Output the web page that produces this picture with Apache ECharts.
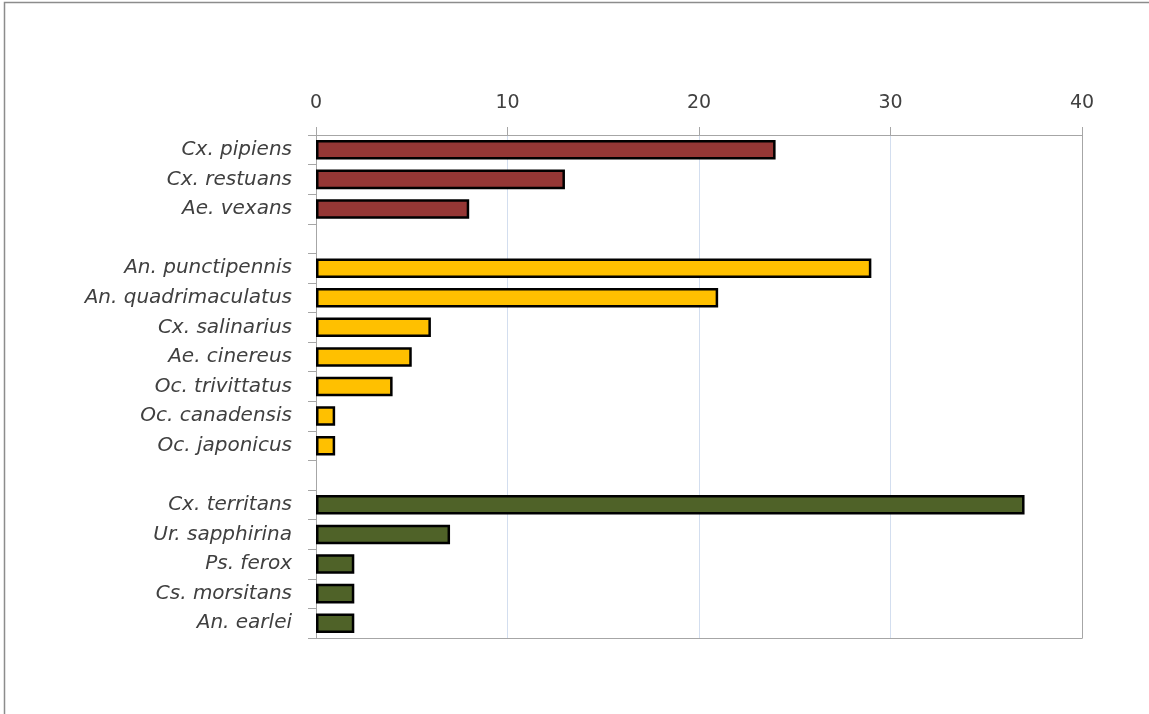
<!DOCTYPE html>
<html><head><meta charset="utf-8">
<script src="https://cdn.jsdelivr.net/npm/echarts@6/dist/echarts.min.js"></script>
<style>html,body{margin:0;padding:0;background:#fff}#c{width:1149px;height:714px}</style>
</head><body><div id="c"></div>
<script>
var group1Names = ['Cx. pipiens', 'Cx. restuans', 'Ae. vexans'];
var group1Values = [24, 13, 8];
var group2Names = ['An. punctipennis', 'An. quadrimaculatus', 'Cx. salinarius', 'Ae. cinereus', 'Oc. trivittatus', 'Oc. canadensis', 'Oc. japonicus'];
var group2Values = [29, 21, 6, 5, 4, 1, 1];
var group3Names = ['Cx. territans', 'Ur. sapphirina', 'Ps. ferox', 'Cs. morsitans', 'An. earlei'];
var group3Values = [37, 7, 2, 2, 2];
var xTicks = [0, 10, 20, 30, 40];

var gapA = ' ', gapB = '  ';
var categories = [].concat(group1Names, [gapA], group2Names, [gapB], group3Names);
function fill(names, values) {
  var m = {};
  names.forEach(function (n, i) { m[n] = values[i]; });
  return categories.map(function (c) { return m.hasOwnProperty(c) ? m[c] : '-'; });
}
var colors = ['#953735', '#FFC000', '#4F6228'];
var groups = [[group1Names, group1Values], [group2Names, group2Values], [group3Names, group3Values]];
var frameColor = '#a6a6a6';

var chart = echarts.init(document.getElementById('c'));
chart.setOption({
  animation: false,
  backgroundColor: '#fff',
  graphic: [{
    type: 'rect', silent: true,
    shape: { x: 4.5, y: 2.5, width: 1300, height: 900 },
    style: { fill: 'none', stroke: '#8c8c8c', lineWidth: 1.5 }
  }],
  grid: { left: 316, right: 67, top: 135, bottom: 76 },
  xAxis: [{
    type: 'value', position: 'top', min: xTicks[0], max: xTicks[xTicks.length - 1], interval: 10,
    axisLine: { show: true, lineStyle: { color: frameColor } },
    axisTick: { show: true, inside: false, length: 8, lineStyle: { color: frameColor } },
    axisLabel: { margin: 22, fontFamily: 'DejaVu Sans', fontSize: 19, color: '#404040' },
    splitLine: { show: true, lineStyle: { color: '#d3deef', width: 1 } }
  }, {
    type: 'value', position: 'bottom', min: xTicks[0], max: xTicks[xTicks.length - 1], interval: 10,
    axisLine: { show: true, onZero: false, lineStyle: { color: frameColor } },
    axisTick: { show: false }, axisLabel: { show: false }, splitLine: { show: false }
  }],
  yAxis: [{
    type: 'category', inverse: true, data: categories,
    axisLine: { show: true, lineStyle: { color: frameColor } },
    axisTick: { show: true, alignWithLabel: false, length: 8, inside: false, lineStyle: { color: frameColor }, interval: 0 },
    axisLabel: { interval: 0, margin: 24, fontFamily: 'DejaVu Sans', fontStyle: 'italic', fontSize: 20, color: '#404040' },
    splitLine: { show: false }
  }, {
    type: 'category', inverse: true, data: categories, position: 'right',
    axisLine: { show: true, onZero: false, lineStyle: { color: frameColor } },
    axisTick: { show: false }, axisLabel: { show: false }, splitLine: { show: false }
  }],
  series: groups.map(function (g, i) {
    return {
      type: 'bar', stack: 'all', barWidth: '66%', xAxisIndex: 0, yAxisIndex: 0,
      data: fill(g[0], g[1]),
      itemStyle: { color: colors[i], borderColor: '#000', borderWidth: 2.5 }
    };
  })
});
</script></body></html>
